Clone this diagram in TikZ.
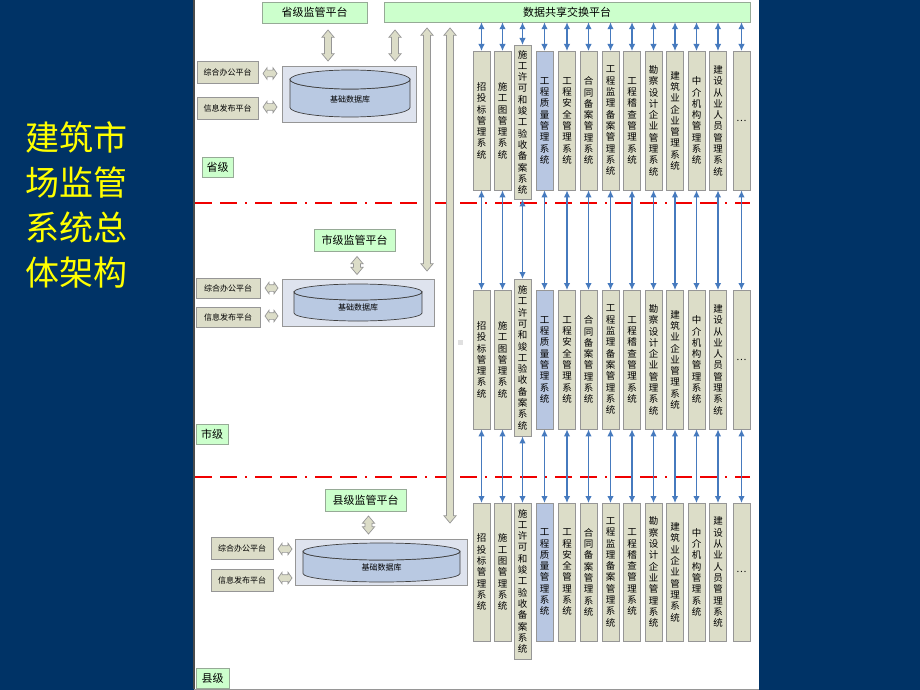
\documentclass[tikz,border=0pt]{standalone}
\usepackage{fontspec}
\setmainfont{Noto Sans CJK SC}
\usetikzlibrary{arrows.meta,shapes.arrows}
\definecolor{navy}{RGB}{0,51,102}
\definecolor{titleyellow}{RGB}{255,255,0}
\definecolor{greenfill}{RGB}{204,255,204}
\definecolor{greenline}{RGB}{150,170,150}
\definecolor{colfill}{RGB}{220,221,200}
\definecolor{boxline}{RGB}{150,150,150}
\definecolor{bluefill}{RGB}{184,199,226}
\definecolor{dbfill}{RGB}{222,227,238}
\definecolor{cylfill}{RGB}{185,201,226}
\definecolor{connblue}{RGB}{70,122,190}
\definecolor{redline}{RGB}{240,0,0}
\newcommand\dbcyl[5]{%
  \filldraw[cylstyle] ({#1-#4},#2) -- ({#1-#4},#3) arc[start angle=180,end angle=360,x radius=#4pt,y radius=#5pt] -- ({#1+#4},#2) arc[start angle=0,end angle=-180,x radius=#4pt,y radius=#5pt] -- cycle;
  \filldraw[cylstyle] (#1,#2) ellipse[x radius=#4pt,y radius=#5pt];
}
\begin{document}
\begin{tikzpicture}[x=1pt,y=-1pt,
  colbox/.style={draw=boxline, fill=colfill, minimum width=17pt, inner sep=0pt, anchor=north, font=\fontsize{9.5}{11.3}\selectfont, align=center},
  platbox/.style={draw=greenline, fill=greenfill, inner sep=0pt, font=\fontsize{11}{13}\selectfont},
  smallbox/.style={draw=boxline, fill=colfill, inner sep=0pt, font=\fontsize{8}{10}\selectfont},
  dbbox/.style={draw=boxline, fill=dbfill, inner sep=0pt},
  dbtext/.style={font=\fontsize{8}{10}\selectfont, inner sep=0pt},
  cylstyle/.style={draw=black!75, fill=cylfill, line width=0.7pt},
  blueconn/.style={draw=connblue, line width=1.3pt, {Latex[length=7pt,width=6.5pt]}-{Latex[length=7pt,width=6.5pt]}},
  garrow/.style={double arrow, draw=boxline, fill=colfill, inner xsep=0pt, inner ysep=3.2pt, double arrow head extend=2.6pt, double arrow tip angle=80, line width=0.7pt},
  harrow/.style={double arrow, draw=boxline, fill=colfill, inner xsep=0pt, inner ysep=3pt, double arrow head extend=2.5pt, double arrow tip angle=110, line width=0.7pt},
  reddash/.style={draw=redline, line width=2pt, dash pattern=on 17pt off 8pt on 17pt off 8pt on 2pt off 8pt}
]
\useasboundingbox (0,0) rectangle (920,690);
\fill[navy] (0,0) rectangle (920,690);
\fill[white] (194,0) rectangle (759,689);
\draw[black!70, line width=1.5pt] (194,0) -- (194,689);
\draw[boxline, line width=1pt] (194,689) -- (759,689);

% title
\node[text=titleyellow, font=\fontsize{34}{45}\selectfont, align=center, inner sep=0pt] (title) at (76.5,204.5) {建筑市\\场监管\\系统总\\体架构};

% red level separators
\draw[reddash] (195,203) -- (750,203);
\draw[reddash] (195,476.5) -- (750,476.5);

% top platforms
\node[platbox, minimum width=105pt, minimum height=21pt] (sj) at (314.5,12.5) {省级监管平台};
\node[platbox, minimum width=366pt, minimum height=20pt] (ds) at (567,12) {数据共享交换平台};

% long gray arrows
\node[garrow, rotate=90, minimum height=243pt] (la1) at (427,149.5) {};
\node[garrow, rotate=90, minimum height=495pt] (la2) at (450,275.5) {};

% ---- province level
\node[garrow, rotate=90, minimum height=31pt] (pa1) at (328,45.5) {};
\node[garrow, rotate=90, minimum height=31pt] (pa2) at (395,45.5) {};
\node[smallbox, minimum width=61pt, minimum height=22pt] (poa) at (227.5,72) {综合办公平台};
\node[smallbox, minimum width=61pt, minimum height=22pt] (pinfo) at (227.5,108.5) {信息发布平台};
\node[harrow, minimum height=14pt] (ph1) at (270,73.5) {};
\node[harrow, minimum height=14pt] (ph2) at (270,107) {};
\node[dbbox, minimum width=134pt, minimum height=56pt] (pdb) at (349,94) {};
\dbcyl{350}{79.5}{107.5}{60}{9.5}
\node[dbtext] (pdbt) at (350,99) {基础数据库};
\node[platbox, minimum width=31pt, minimum height=20pt] (plabel) at (217.5,167.5) {省级};

% ---- city level
\node[platbox, minimum width=81pt, minimum height=22pt] (cj) at (354.5,240) {市级监管平台};
\node[garrow, rotate=90, minimum height=18pt] (ca1) at (357,265.5) {};
\node[smallbox, minimum width=64pt, minimum height=20pt] (coa) at (228,288.5) {综合办公平台};
\node[smallbox, minimum width=64pt, minimum height=20pt] (cinfo) at (228,317) {信息发布平台};
\node[harrow, minimum height=13pt] (ch1) at (271.5,288) {};
\node[harrow, minimum height=13pt] (ch2) at (271.5,316) {};
\node[dbbox, minimum width=152pt, minimum height=47pt] (cdb) at (358,302.5) {};
\dbcyl{358}{292}{313}{64}{8}
\node[dbtext] (cdbt) at (358,307) {基础数据库};
\node[platbox, minimum width=32pt, minimum height=20pt] (clabel) at (212,434) {市级};
\fill[black!12] (458,340) rectangle (463,345);

% ---- county level
\node[platbox, minimum width=81pt, minimum height=22pt] (xj) at (365.5,500) {县级监管平台};
\node[garrow, rotate=90, minimum height=18pt] (ka1) at (368.5,525) {};
\node[smallbox, minimum width=62pt, minimum height=22pt] (koa) at (242,548) {综合办公平台};
\node[smallbox, minimum width=62pt, minimum height=22pt] (kinfo) at (242,580) {信息发布平台};
\node[harrow, minimum height=14pt] (kh1) at (285,549) {};
\node[harrow, minimum height=14pt] (kh2) at (285,578) {};
\node[dbbox, minimum width=172pt, minimum height=46pt] (kdb) at (381,562) {};
\dbcyl{381.5}{551.5}{573.5}{78.5}{8.5}
\node[dbtext] (kdbt) at (381.5,567) {基础数据库};
\node[platbox, minimum width=33pt, minimum height=20pt] (klabel) at (212.5,678.5) {县级};

% ---- system columns
\foreach \i/\cx/\t in {
  1/481.5/{招\\投\\标\\管\\理\\系\\统},
  2/502.5/{施\\工\\图\\管\\理\\系\\统},
  3/522.5/{施\\工\\许\\可\\和\\竣\\工\\验\\收\\备\\案\\系\\统},
  4/544.5/{工\\程\\质\\量\\管\\理\\系\\统},
  5/567/{工\\程\\安\\全\\管\\理\\系\\统},
  6/588.5/{合\\同\\备\\案\\管\\理\\系\\统},
  7/610.5/{工\\程\\监\\理\\备\\案\\管\\理\\系\\统},
  8/632/{工\\程\\稽\\查\\管\\理\\系\\统},
  9/653.5/{勘\\察\\设\\计\\企\\业\\管\\理\\系\\统},
  10/675/{建\\筑\\业\\企\\业\\管\\理\\系\\统},
  11/696.5/{中\\介\\机\\构\\管\\理\\系\\统},
  12/718/{建\\设\\从\\业\\人\\员\\管\\理\\系\\统},
  13/741.5/{…}} {
  \ifnum\i=4 \def\myCF{bluefill}\else\def\myCF{colfill}\fi
  \ifnum\i=3
    \def\myPT{45}\def\myPH{154}\def\myCT{279}\def\myCH{157}\def\myKT{503}\def\myKH{156}%
  \else
    \def\myPT{51}\def\myPH{139}\def\myCT{290}\def\myCH{139}\def\myKT{503}\def\myKH{138}%
  \fi
  \node[colbox, fill=\myCF, minimum height=\myPH pt] (p\i) at (\cx,\myPT) {\t};
  \node[colbox, fill=\myCF, minimum height=\myCH pt] (c\i) at (\cx,\myCT) {\t};
  \node[colbox, fill=\myCF, minimum height=\myKH pt] (k\i) at (\cx,\myKT) {\t};
  \draw[blueconn] (ds.south -| p\i.north) -- (p\i.north);
  \draw[blueconn] (p\i.south) -- (c\i.north);
  \draw[blueconn] (c\i.south) -- (k\i.north);
}
\end{tikzpicture}
\end{document}
